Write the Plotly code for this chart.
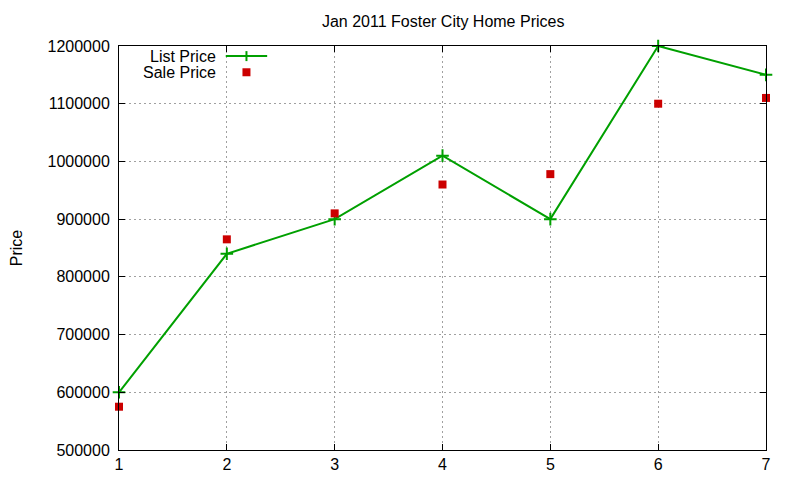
import plotly.graph_objects as go

# data
sizes = [1, 2, 3, 4, 5, 6, 7]
list_price = [600000, 840000, 900000, 1010000, 900000, 1200000, 1150000]
sale_price = [575000, 865000, 910000, 960000, 978000, 1100000, 1110000]
x_ticks = [1, 2, 3, 4, 5, 6, 7]
y_ticks = [500000, 600000, 700000, 800000, 900000, 1000000, 1100000, 1200000]

GREEN = '#00a000'
RED = '#cc0000'
FONT = 'Liberation Sans, Arial, sans-serif'

fig = go.Figure()
fig.add_trace(go.Scatter(x=sizes, y=list_price, mode='lines+markers', name='List Price',
                         line=dict(color=GREEN, width=2),
                         marker=dict(symbol='cross-thin', size=9, line=dict(color=GREEN, width=2)),
                         showlegend=False, cliponaxis=False))
fig.add_trace(go.Scatter(x=sizes, y=sale_price, mode='markers', name='Sale Price',
                         marker=dict(symbol='square', size=8, color=RED),
                         showlegend=False, cliponaxis=False))

# gnuplot-style key: text on the left, sample on the right
for label, ky in [('List Price', 0.975), ('Sale Price', 0.935)]:
    fig.add_annotation(text=label, xref='paper', yref='paper', x=0.153, y=ky,
                       xanchor='right', yanchor='middle', showarrow=False,
                       font=dict(size=16, color='black', family=FONT))
fig.add_shape(type='line', xref='paper', yref='paper', x0=0.165, x1=0.229, y0=0.975, y1=0.975,
              line=dict(color=GREEN, width=2))
fig.add_shape(type='line', xref='paper', yref='paper', xsizemode='pixel', ysizemode='pixel',
              xanchor=0.197, yanchor=0.975, x0=0, x1=0, y0=-5, y1=5, line=dict(color=GREEN, width=2))
fig.add_shape(type='rect', xref='paper', yref='paper', xsizemode='pixel', ysizemode='pixel',
              xanchor=0.197, yanchor=0.935, x0=-4, x1=4, y0=-4, y1=4,
              fillcolor=RED, line=dict(width=0))

axis_common = dict(showline=True, linecolor='black', linewidth=1, mirror='ticks',
                   ticks='inside', ticklen=6, tickcolor='black', automargin=False,
                   showgrid=True, gridcolor='#a0a0a0', griddash='2px,3px', gridwidth=1,
                   zeroline=False, tickfont=dict(size=16, color='black', family=FONT))

fig.update_layout(
    width=800, height=480,
    margin=dict(l=111, r=42, t=38, b=38),
    paper_bgcolor='white', plot_bgcolor='white',
    title=dict(text='Jan 2011 Foster City Home Prices', x=0.544, xanchor='center', y=0.973,
               yanchor='middle', font=dict(size=16, color='black', family=FONT)),
    xaxis=dict(range=[1, 7], tickvals=x_ticks, **axis_common),
    yaxis=dict(range=[500000, 1200000], tickvals=y_ticks, tickformat='d', ticklabelstandoff=5,
               title=dict(text='Price', standoff=28, font=dict(size=16, color='black', family=FONT)),
               **axis_common),
)

fig.write_html("out.html")
